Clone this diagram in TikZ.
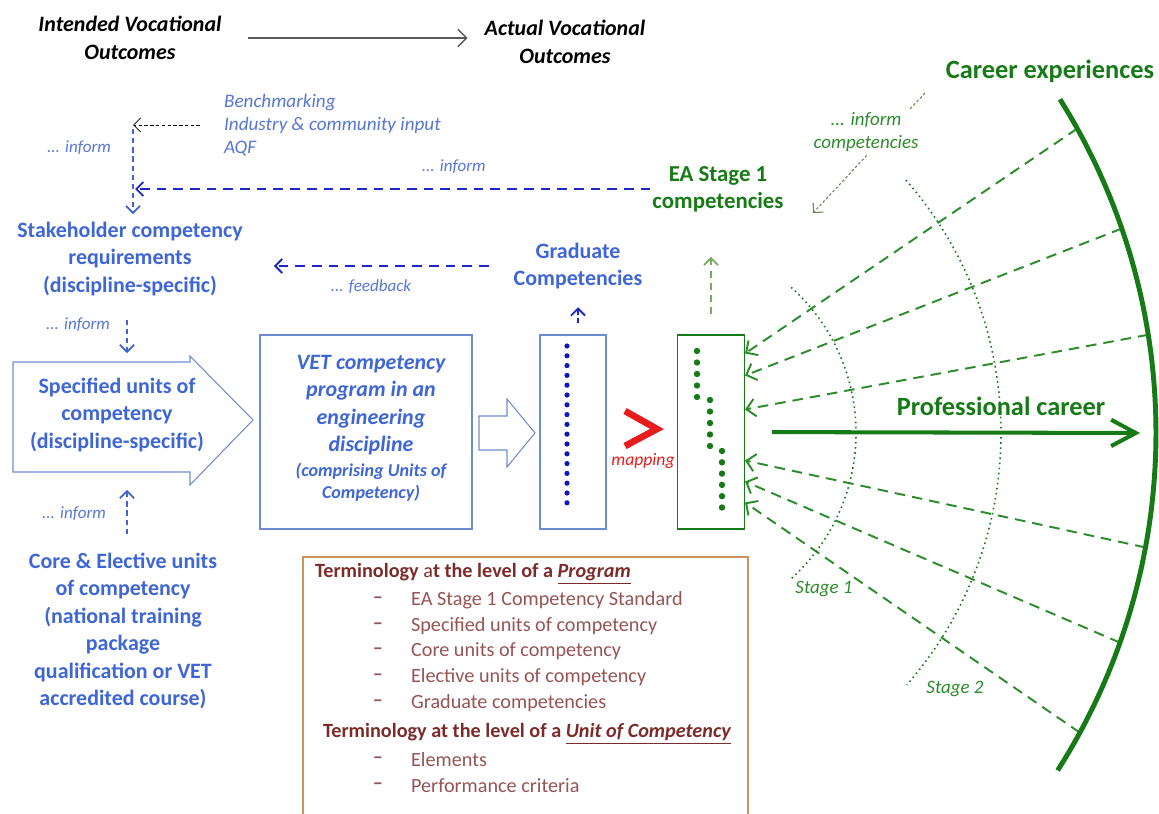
\documentclass[tikz,border=0pt]{standalone}
\usepackage{fontspec}
\setmainfont{Carlito}
\usetikzlibrary{arrows.meta,calc}

\definecolor{headblue}{RGB}{62,102,214}
\definecolor{softblue}{RGB}{88,118,212}
\definecolor{lineblue}{RGB}{28,40,196}
\definecolor{vertblue}{RGB}{66,98,210}
\definecolor{frameblue}{RGB}{112,140,208}
\definecolor{dotblue}{RGB}{12,22,190}
\definecolor{careergreen}{RGB}{22,122,22}
\definecolor{dashgreen}{RGB}{44,140,44}
\definecolor{palegreen}{RGB}{120,172,96}
\definecolor{mapred}{RGB}{232,28,28}
\definecolor{termframe}{RGB}{204,146,96}
\definecolor{termhead}{RGB}{124,42,42}
\definecolor{termitem}{RGB}{150,84,84}

\begin{document}
\begin{tikzpicture}[x=0.02cm, y=-0.02cm, >={Straight Barb[length=4pt,width=8pt]},
    blue head/.style={font=\fontsize{12.5}{15.6}\selectfont\bfseries, text=headblue, align=center},
    black head/.style={font=\fontsize{12.5}{15.9}\selectfont\bfseries\itshape, align=center},
    vet text/.style={font=\fontsize{12.5}{15.6}\selectfont\bfseries\itshape, text=headblue, align=center},
    vet sub/.style={font=\fontsize{10.3}{12.5}\selectfont\bfseries\itshape, text=headblue, align=center},
    green head/.style={font=\fontsize{13}{15.3}\selectfont\bfseries, text=careergreen, align=center},
    inform label/.style={font=\fontsize{9.7}{12}\selectfont\itshape, text=softblue},
    green label/.style={font=\fontsize{10.8}{13.6}\selectfont\itshape, text=dashgreen, align=center},
    term head/.style={font=\fontsize{11.5}{14}\selectfont\bfseries, text=termhead, anchor=west},
    term item/.style={font=\fontsize{11.5}{14}\selectfont, text=termitem},
    frame box/.style={draw=frameblue, line width=0.6pt, minimum height=3.88cm},
    frame line/.style={draw=frameblue, line width=0.6pt},
    navy link/.style={->, lineblue, line width=1.1pt, dash pattern=on 5.5pt off 4pt},
    vert link/.style={->, vertblue, line width=1pt, dash pattern=on 3pt off 2.2pt},
    green link/.style={->, dashgreen, line width=1.1pt, dash pattern=on 6pt off 4pt,
        -{Straight Barb[length=5pt,width=10pt]}},
    stage arc/.style={careergreen, line width=0.9pt, dotted}]
    \tikzstyle{every node}=[inner sep=1pt]

    % bounding box of the slide crop
    \useasboundingbox (0,0) rectangle (1159,814);

    % outcomes
    \node[black head] (intended) at (130,38) {Intended Vocational\\Outcomes};
    \node[black head] (actual) at (565,42) {Actual Vocational\\Outcomes};
    \draw[gray!70!black, line width=0.8pt, -{Straight Barb[length=5pt,width=10pt]},
        shorten <=0.48cm, shorten >=0.3cm] (intended.east) -- (intended.east -| actual.west);

    % stakeholder side
    \node[font=\fontsize{10.9}{13.3}\selectfont\itshape, text=softblue, align=left, anchor=west]
        (bench) at (222,125) {Benchmarking\\Industry \& community input\\AQF};
    \coordinate (corner) at (133,125);
    \coordinate (linkx) at (127,0);
    \node[blue head] (stake) at (130,259) {Stakeholder competency\\requirements\\(discipline-specific)};
    \draw[->, black, line width=0.5pt, dash pattern=on 2pt off 1.3pt, shorten <=0.44cm]
        (bench.west) -- (corner);
    \draw[vert link, shorten >=0.12cm] ($(corner)+(0,4)$) -- (corner |- stake.north);
    \node[inform label] (inf1) at (79,148) {... inform};

    % EA feeds the stakeholders
    \node[green head] (ea) at (718,189) {EA Stage 1\\competencies};
    \draw[navy link, shorten >=0.04cm] (ea.west) -- (ea.west -| corner)
        node[inform label, pos=0.38, above=7pt] (inf2) {... inform};

    % specified units
    \draw[frame line] (13,362) -- (190,362) -- (190,356) -- (253,420) -- (190,485)
        -- (190,472) -- (13,472) -- cycle;
    \node[blue head] (spec) at (117,415) {Specified units of\\competency\\(discipline-specific)};
    \draw[vert link, shorten <=0.44cm, shorten >=0.46cm] (stake.south -| linkx) -- (spec.north -| linkx);
    \node[inform label] (inf3) at (78,325) {... inform};

    \node[blue head] (core) at (123,631) {Core \& Elective units\\of competency\\(national training\\package\\qualification or VET\\accredited course)};
    \draw[vert link, shorten <=0.34cm, shorten >=0.72cm] (core.north -| linkx) -- (spec.south -| linkx);
    \node[inform label] (inf4) at (74,514) {... inform};

    % program
    \node[frame box, minimum width=4.24cm] (vet) at (366,432) {};
    \node[vet text] (vettxt) at (371,405) {VET competency\\program in an\\engineering\\discipline};
    \node[vet sub] (vetsub) at (371,482) {(comprising Units of\\Competency)};
    \draw[frame line] (479,416) -- (507,416) -- (507,399) -- (535,433) -- (507,467)
        -- (507,450) -- (479,450) -- cycle;

    % graduate competencies
    \node[frame box, minimum width=1.32cm] (gradbox) at (573,432) {};
    \foreach \k in {0,...,16}
        \fill[dotblue] (567,{346+9.8*\k}) circle (2.6);
    \node[blue head] (grad) at (578,266) {Graduate\\Competencies};
    \draw[navy link, dash pattern=on 3pt off 2pt, shorten <=0.22cm, shorten >=0.32cm]
        (grad.south |- gradbox.north) -- (grad.south);
    \draw[navy link, shorten <=0.46cm, shorten >=0.58cm] (grad.west) -- (grad.west -| stake.east);
    \node[inform label] (feed) at (371,287) {... feedback};

    % mapping
    \draw[mapred, line width=3.8pt, miter limit=10] (625,411) -- (657,429) -- (625,446);
    \node[font=\fontsize{10}{12}\selectfont\itshape, text=mapred] (map) at (643,461) {mapping};

    % EA competencies box
    \node[draw=careergreen, line width=0.6pt, minimum width=1.34cm, minimum height=3.88cm] (grnbox) at (711,432) {};
    \foreach \k in {0,...,4}
        \fill[careergreen] (697,{351+11.5*\k}) circle (3.2);
    \foreach \k in {0,...,4}
        \fill[careergreen] (710,{400+11.5*\k}) circle (3.2);
    \foreach \k in {0,...,5}
        \fill[careergreen] (722,{451+11.3*\k}) circle (3.2);
    \draw[->, palegreen, line width=1pt, dash pattern=on 4pt off 3pt, shorten <=0.4cm, shorten >=0.86cm]
        (grnbox.north) -- (grnbox.north |- ea.south);

    % career
    \node[green head, font=\fontsize{15}{18}\selectfont\bfseries] (career) at (1050,71) {Career experiences};
    \coordinate (infstart) at (925,93);
    \coordinate (infend) at (813,213);
    \draw[->, palegreen!80!black, line width=0.6pt, dash pattern=on 1.5pt off 1.2pt] (infstart) -- (infend);
    \node[green label, fill=white] (infc) at (866,132) {... inform\\competencies};

    \coordinate (C) at (528,433);
    \foreach \a/\o in {-29/19,-19/41,-9/75,10.5/126,19.5/147,28.5/168}
        \draw[green link] ($(C)+(\a:628)$) -- ($(grnbox.north east)+(0,\o)$);
    \draw[careergreen, line width=2.8pt] ($(C)+(-32.1:628)$) arc[start angle=-32.1, end angle=32.5, radius=628];
    \draw[stage arc] ($(660,433)+(-48:196)$) arc[start angle=-48, end angle=48, radius=196];
    \draw[stage arc] ($(617,433)+(-41.2:384)$) arc[start angle=-41.2, end angle=41, radius=384];
    \node[green label] (s1) at (824,589) {Stage 1};
    \node[green label] (s2) at (955,689) {Stage 2};

    \coordinate (pcend) at (1140,433);
    \draw[careergreen, line width=2.3pt, -{Straight Barb[length=14pt,width=15pt]}, shorten <=0.54cm]
        (grnbox.east) -- (pcend);
    \node[green head, font=\fontsize{15}{18}\selectfont\bfseries] (pc) at (1001,406) {Professional career};

    % terminology
    \draw[termframe, line width=0.7pt] (303,830) |- (748,557) -- (748,830);
    \node[term head] (th1) at (313,574) {Terminology {\mdseries a}t the level of a \underline{\textit{Program}}};
    \foreach \t [count=\i] in {EA Stage 1 Competency Standard, Specified units of competency,
        Core units of competency, Elective units of competency, Graduate competencies} {
        \node[term item, font=\fontsize{11.5}{14}\selectfont\bfseries] (pd\i) at (378,{600+25.75*(\i-1)}) {--};
        \node[term item, anchor=west] (pt\i) at (409,{600+25.75*(\i-1)}) {\t};
    }
    \node[term head] (th2) at (321,734) {Terminology at the level of a \underline{\textit{Unit of Competency}}};
    \foreach \t [count=\i] in {Elements, Performance criteria} {
        \node[term item, font=\fontsize{11.5}{14}\selectfont\bfseries] (ud\i) at (378,{760+26*(\i-1)}) {--};
        \node[term item, anchor=west] (ut\i) at (409,{760+26*(\i-1)}) {\t};
    }
\end{tikzpicture}
\end{document}
